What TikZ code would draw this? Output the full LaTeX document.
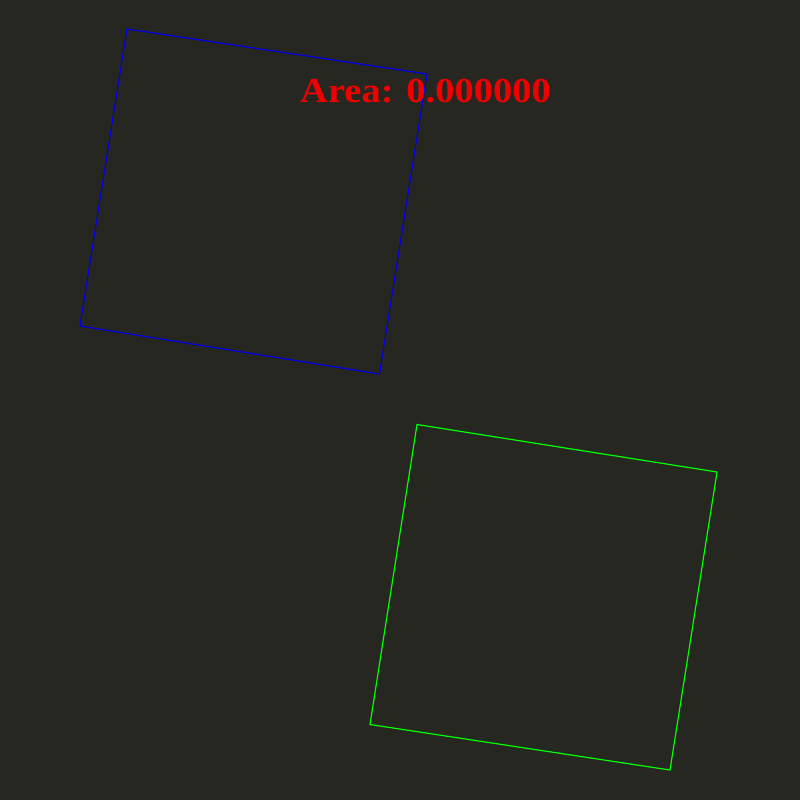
\documentclass[tikz,border=0pt]{standalone}
\usepackage{fontspec}
\setmainfont{Liberation Serif}
\definecolor{bg}{RGB}{39,39,34}
\definecolor{sqblue}{RGB}{0,0,230}
\definecolor{sqgreen}{RGB}{0,255,0}
\definecolor{txtred}{RGB}{240,0,0}
\begin{document}
\begin{tikzpicture}[x=1pt,y=-1pt,
  sq/.style={line width=1.2pt, line join=miter},
  lbl/.style={text=txtred, font=\fontsize{35}{40}\selectfont\bfseries, inner sep=0pt, anchor=base west, xscale=1.1}]
\fill[bg] (0,0) rectangle (800,800);
\useasboundingbox (0,0) rectangle (800,800);
% blue square
\coordinate (b1) at (127,29);
\coordinate (b2) at (427,74);
\coordinate (b3) at (379.5,374);
\coordinate (b4) at (80,326);
\draw[sq, sqblue] (b1) -- (b2) -- (b3) -- (b4) -- cycle;
% green square
\coordinate (g1) at (417,424.5);
\coordinate (g2) at (717,472);
\coordinate (g3) at (670,770);
\coordinate (g4) at (370,724.5);
\draw[sq, sqgreen] (g1) -- (g2) -- (g3) -- (g4) -- cycle;
\node[lbl] (area) at (300,102) {Area: 0.000000};
\end{tikzpicture}
\end{document}
